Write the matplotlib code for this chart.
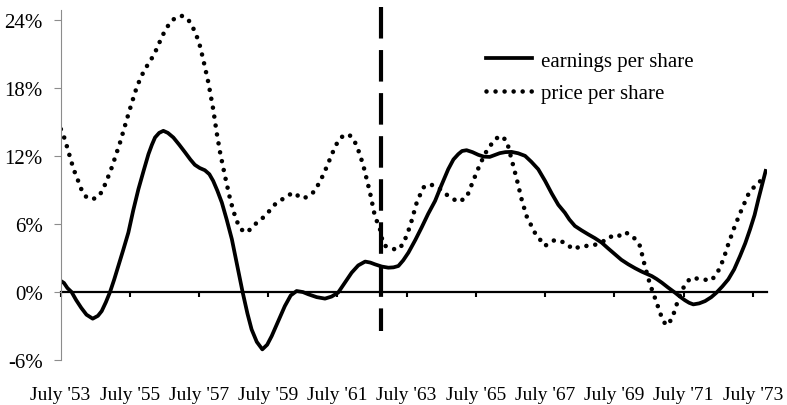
import matplotlib
matplotlib.use("Agg")
import matplotlib.pyplot as plt

plt.rcParams.update({
    "font.family": "Liberation Serif",
    "lines.scale_dashes": False,
})

# growth rates (%); x in decimal years (July '53 = 1953.5)
eps_years = [1953.5, 1953.6, 1953.7, 1953.82, 1953.95, 1954.1, 1954.25, 1954.43,
             1954.58, 1954.69, 1954.81, 1954.93, 1955.05, 1955.17, 1955.31, 1955.46,
             1955.6, 1955.75, 1955.9, 1956.04, 1956.14, 1956.23, 1956.35, 1956.47,
             1956.6, 1956.76, 1956.93, 1957.1, 1957.25, 1957.38, 1957.52, 1957.67,
             1957.8, 1957.91, 1958.03, 1958.16, 1958.3, 1958.45, 1958.6, 1958.76,
             1958.9, 1959.02, 1959.17, 1959.33, 1959.47, 1959.6, 1959.8, 1959.98,
             1960.15, 1960.32, 1960.5, 1960.66, 1960.9, 1961.14, 1961.33, 1961.52,
             1961.72, 1961.91, 1962.1, 1962.3, 1962.45, 1962.58, 1962.78, 1962.97,
             1963.12, 1963.26, 1963.4, 1963.55, 1963.75, 1963.93, 1964.12, 1964.32,
             1964.5, 1964.7, 1964.85, 1964.99, 1965.1, 1965.23, 1965.4, 1965.57,
             1965.73, 1965.9, 1966.05, 1966.19, 1966.35, 1966.53, 1966.72, 1966.92,
             1967.1, 1967.3, 1967.5, 1967.69, 1967.88, 1968.07, 1968.2, 1968.36,
             1968.55, 1968.74, 1968.94, 1969.13, 1969.32, 1969.52, 1969.7, 1969.9,
             1970.1, 1970.29, 1970.45, 1970.58, 1970.72, 1970.87, 1971.05, 1971.25,
             1971.4, 1971.54, 1971.66, 1971.78, 1971.95, 1972.12, 1972.3, 1972.45,
             1972.62, 1972.79, 1972.96, 1973.13, 1973.28, 1973.42, 1973.55, 1973.66,
             1973.77, 1973.87]
eps_values = [1.0, 0.8, 0.35, 0.0, -0.7, -1.4, -2.0, -2.35,
              -2.1, -1.68, -0.9, 0.0, 1.1, 2.3, 3.7, 5.25,
              7.2, 9.08, 10.7, 12.17, 13.0, 13.64, 14.05, 14.23,
              14.05, 13.64, 13.0, 12.32, 11.7, 11.23, 10.95, 10.75,
              10.4, 9.81, 8.95, 7.9, 6.4, 4.66, 2.4, 0.0,
              -1.9, -3.3, -4.4, -5.06, -4.65, -3.89, -2.5, -1.24,
              -0.3, 0.09, 0.0, -0.2, -0.45, -0.58, -0.4, -0.05,
              0.85, 1.71, 2.35, 2.69, 2.6, 2.45, 2.25, 2.15,
              2.18, 2.3, 2.8, 3.48, 4.6, 5.69, 6.9, 8.04,
              9.4, 10.84, 11.7, 12.17, 12.45, 12.52, 12.35, 12.11,
              11.95, 11.93, 12.1, 12.26, 12.35, 12.37, 12.25, 12.02,
              11.5, 10.84, 9.8, 8.7, 7.7, 7.0, 6.4, 5.83,
              5.45, 5.1, 4.75, 4.37, 3.85, 3.33, 2.85, 2.45,
              2.1, 1.8, 1.58, 1.41, 1.15, 0.83, 0.4, -0.05,
              -0.42, -0.73, -0.95, -1.09, -1.0, -0.8, -0.45, -0.05,
              0.5, 1.12, 2.0, 3.18, 4.3, 5.54, 6.8, 8.19,
              9.5, 10.69]

price_years = [1953.51, 1953.6, 1953.68, 1953.82, 1953.92, 1954.01, 1954.11, 1954.21,
               1954.35, 1954.47, 1954.59, 1954.69, 1954.79, 1954.88, 1954.98, 1955.1,
               1955.22, 1955.34, 1955.46, 1955.58, 1955.7, 1955.82, 1955.94, 1956.06,
               1956.18, 1956.3, 1956.42, 1956.56, 1956.71, 1956.85, 1956.98, 1957.09,
               1957.19, 1957.31, 1957.43, 1957.53, 1957.62, 1957.77, 1957.91, 1958.01,
               1958.11, 1958.25, 1958.4, 1958.5, 1958.59, 1958.7, 1958.83, 1958.97,
               1959.12, 1959.41, 1959.7, 1959.98, 1960.22, 1960.36, 1960.51, 1960.68,
               1960.85, 1960.95, 1961.1, 1961.24, 1961.38, 1961.52, 1961.65, 1961.77,
               1961.9, 1962.01, 1962.13, 1962.25, 1962.44, 1962.58, 1962.73, 1962.82,
               1962.92, 1963.02, 1963.21, 1963.4, 1963.6, 1963.79, 1963.98, 1964.17,
               1964.41, 1964.7, 1964.99, 1965.23, 1965.42, 1965.62, 1965.81, 1966.05,
               1966.22, 1966.39, 1966.53, 1966.68, 1966.82, 1966.96, 1967.2, 1967.49,
               1967.78, 1968.07, 1968.31, 1968.55, 1968.84, 1969.13, 1969.37, 1969.56,
               1969.8, 1970.04, 1970.24, 1970.38, 1970.53, 1970.67, 1970.77, 1970.87,
               1970.99, 1971.16, 1971.3, 1971.44, 1971.59, 1971.73, 1972.02, 1972.31,
               1972.5, 1972.65, 1972.79, 1972.98, 1973.18, 1973.37, 1973.56, 1973.8]
price_values = [14.38, 13.7, 12.9, 11.43, 10.5, 9.81, 9.0, 8.48,
                8.19, 8.25, 8.4, 8.85, 9.52, 10.2, 10.99, 12.1,
                13.2, 14.45, 15.7, 16.9, 18.06, 18.95, 19.68, 20.25,
                20.85, 21.6, 22.48, 23.3, 23.95, 24.25, 24.39, 24.3,
                24.04, 23.45, 22.62, 21.7, 20.56, 18.5, 16.15, 14.09,
                12.32, 10.25, 8.19, 7.1, 6.27, 5.6, 5.25, 5.5,
                5.98, 6.72, 7.75, 8.34, 8.78, 8.5, 8.25, 8.5,
                8.93, 9.52, 10.4, 11.43, 12.45, 13.35, 13.75, 13.94,
                13.75, 13.2, 12.3, 11.14, 8.78, 6.72, 5.54, 4.22,
                4.0, 3.92, 3.71, 4.22, 5.83, 7.9, 9.23, 9.52,
                9.23, 8.48, 7.95, 8.34, 9.81, 11.29, 12.46, 13.49,
                13.79, 13.35, 11.73, 9.96, 8.19, 6.72, 5.25, 4.07,
                4.6, 4.37, 3.77, 4.07, 4.07, 4.37, 4.9, 4.81,
                5.3, 4.9, 4.07, 2.3, 0.68, -0.5, -1.38, -2.26,
                -2.94, -2.41, -1.09, 0.09, 0.88, 1.27, 1.12, 1.03,
                1.86, 2.89, 4.22, 5.83, 7.31, 8.63, 9.37, 10.02]

tick_years = [1953.5 + 2 * i for i in range(11)]
tick_labels = ["July '%d" % (53 + 2 * i) for i in range(11)]
y_ticks = [-6, 0, 6, 12, 18, 24]
break_year = 1962.75

fig = plt.figure(figsize=(7.87, 4.06), dpi=100)
ax = fig.add_axes([0.0769, 0.1108, 0.8973, 0.8628])

ax.plot(eps_years, eps_values, color="black", lw=2.7, solid_joinstyle="round",
        label="earnings per share")
ax.plot(price_years, price_values, color="black", lw=3.3,
        linestyle=(0, (0.01, 6.5)), dash_capstyle="round",
        label="price per share")

ax.plot([break_year, break_year], [25.2, -3.4], color="black", lw=3.0,
        linestyle=(0, (22.7, 8.3)), dash_capstyle="butt", clip_on=False)

ax.set_xlim(1953.5, 1973.9)
ax.set_ylim(-6, 24.92)

ax.spines["top"].set_visible(False)
ax.spines["right"].set_visible(False)
ax.spines["left"].set_color("#8c8c8c")
ax.spines["left"].set_linewidth(0.8)
ax.spines["bottom"].set_position(("data", 0))
ax.spines["bottom"].set_linewidth(1.6)
ax.spines["bottom"].set_zorder(1)

ax.set_xticks(tick_years)
ax.set_xticklabels(tick_labels)
ax.tick_params(axis="x", direction="out", length=3.5, width=1.5, color="black",
               pad=64, labelsize=14)
ax.set_yticks(y_ticks)
ax.set_yticklabels(["%d%%" % v for v in y_ticks])
ax.tick_params(axis="y", direction="out", length=4.8, width=0.8, color="#8c8c8c",
               pad=8, labelsize=15)

fig.legend(loc="upper left", bbox_to_anchor=(486 / 787, (406 - 52) / 406),
           bbox_transform=fig.transFigure, frameon=False, fontsize=15,
           borderpad=0, borderaxespad=0, handlelength=2.2, handletextpad=0.43,
           labelspacing=0.62)

fig.savefig("out.png", dpi=100)
